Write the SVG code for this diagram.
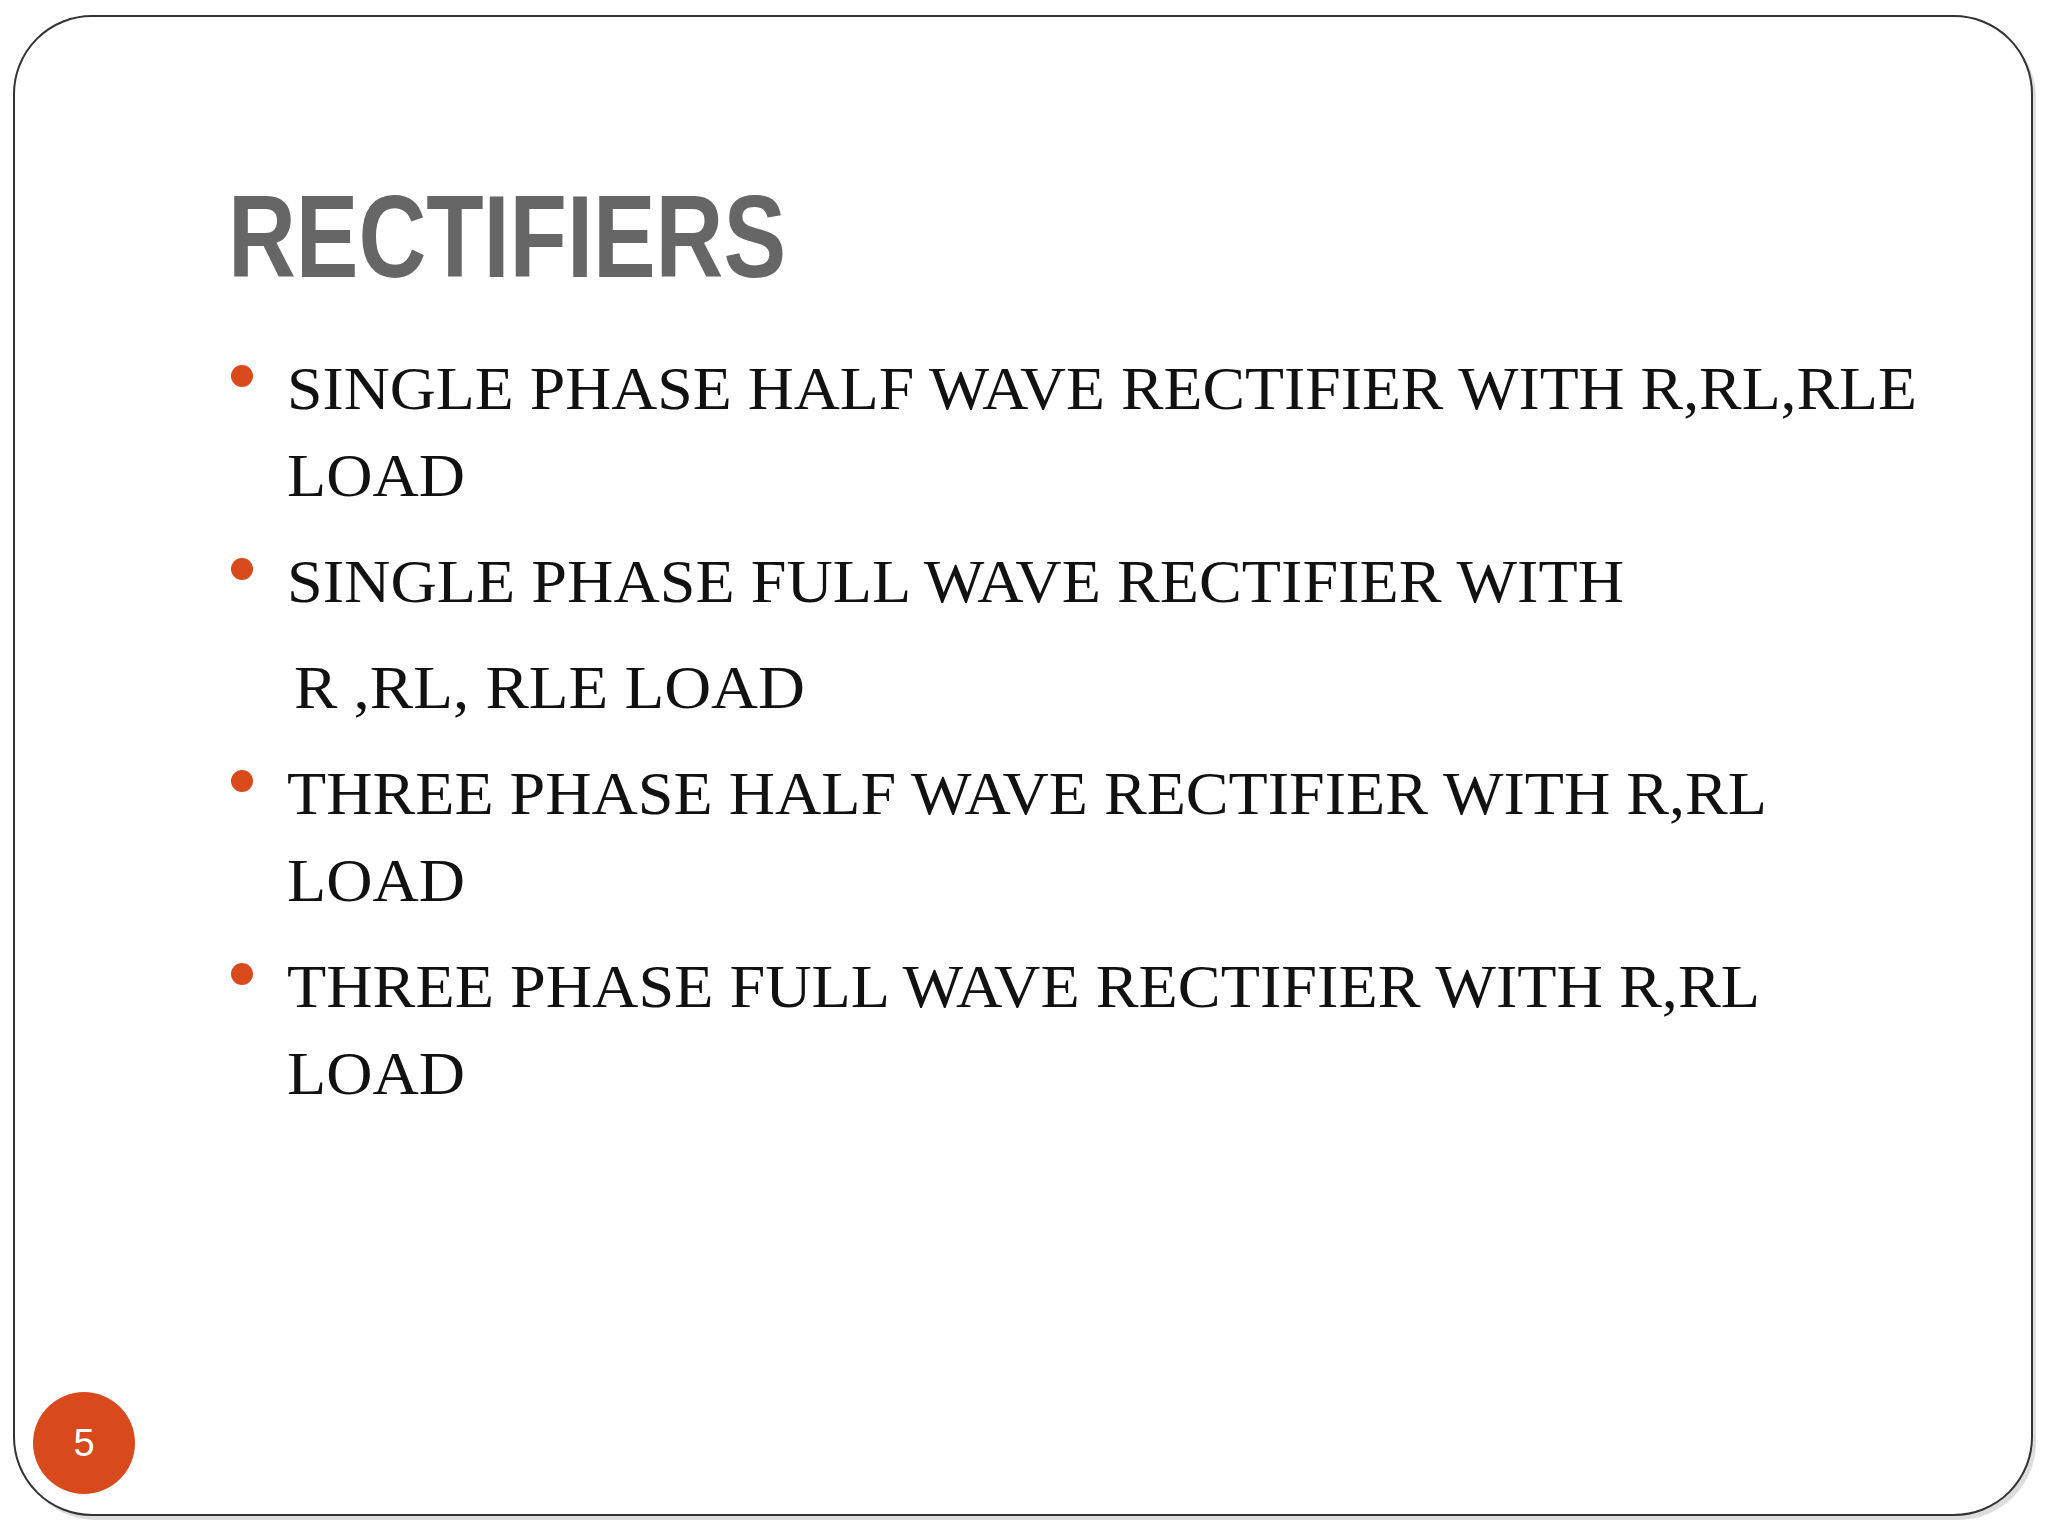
<svg xmlns="http://www.w3.org/2000/svg" width="2048" height="1536" viewBox="0 0 2048 1536">
<style>
.b{font-family:"Liberation Serif",serif;font-size:62px;fill:#111}
.d{fill:#D84A1B}
</style>
<rect width="2048" height="1536" fill="#fff"/>
<rect x="18" y="20" width="2018" height="1500" rx="78" fill="#bbb" opacity="0.5"/>
<rect x="14" y="16" width="2018" height="1499" rx="78" fill="#fff" stroke="#333" stroke-width="2"/>
<g id="title"><text x="228" y="277" font-family="Liberation Sans,Arial,sans-serif" font-weight="bold" font-size="116" fill="#666" textLength="558" lengthAdjust="spacingAndGlyphs">RECTIFIERS</text></g>
<g id="bullets">
<circle class="d" cx="242" cy="376" r="11"/>
<circle class="d" cx="242" cy="569" r="11"/>
<circle class="d" cx="242" cy="781" r="11"/>
<circle class="d" cx="242" cy="974" r="11"/>
<text class="b" x="287" y="409" textLength="1630" lengthAdjust="spacingAndGlyphs">SINGLE PHASE HALF WAVE RECTIFIER WITH R,RL,RLE</text>
<text class="b" x="287" y="496" textLength="178" lengthAdjust="spacingAndGlyphs">LOAD</text>
<text class="b" x="287" y="602" textLength="1337" lengthAdjust="spacingAndGlyphs">SINGLE PHASE FULL  WAVE RECTIFIER WITH</text>
<text class="b" x="294" y="708" textLength="511" lengthAdjust="spacingAndGlyphs">R ,RL, RLE LOAD</text>
<text class="b" x="287" y="814" textLength="1480" lengthAdjust="spacingAndGlyphs">THREE PHASE HALF WAVE RECTIFIER WITH R,RL</text>
<text class="b" x="287" y="901" textLength="178" lengthAdjust="spacingAndGlyphs">LOAD</text>
<text class="b" x="287" y="1007" textLength="1473" lengthAdjust="spacingAndGlyphs">THREE PHASE FULL WAVE RECTIFIER WITH R,RL</text>
<text class="b" x="287" y="1094" textLength="178" lengthAdjust="spacingAndGlyphs">LOAD</text>
</g>
<g id="page"><circle cx="84" cy="1443" r="51" fill="#D84A1B"/><text x="84" y="1456" text-anchor="middle" font-family="Liberation Sans,sans-serif" font-size="38" fill="#fff">5</text></g>
</svg>
